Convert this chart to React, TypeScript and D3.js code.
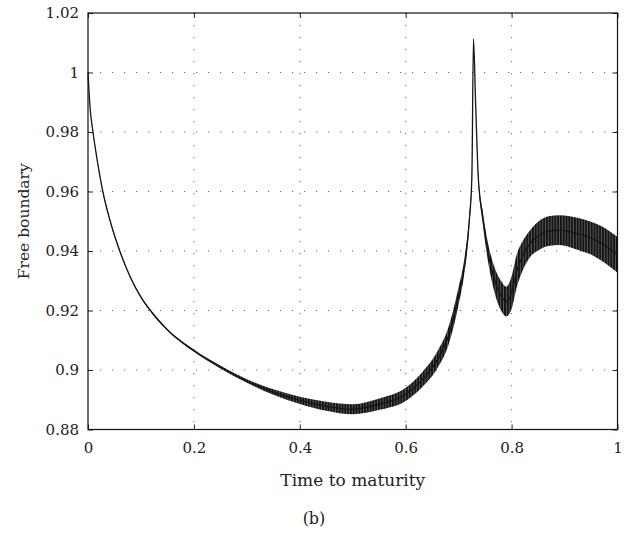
import React, { useEffect, useRef } from 'react';
import * as d3 from 'd3';

// time to maturity (x) sampled along the curve
const times = [0, 0.004, 0.0094, 0.017, 0.028, 0.042, 0.06, 0.08, 0.1, 0.12, 0.15, 0.2, 0.25, 0.3, 0.35, 0.4, 0.45, 0.5, 0.55, 0.6, 0.63, 0.66, 0.68, 0.7, 0.71, 0.72, 0.725, 0.728, 0.732, 0.737, 0.745, 0.755, 0.765, 0.78, 0.79, 0.8, 0.81, 0.82, 0.835, 0.85, 0.87, 0.89, 0.91, 0.93, 0.95, 0.97, 1.0];
// middle of the oscillating free boundary
const boundary = [1.0, 0.988, 0.98, 0.971, 0.96, 0.95, 0.94, 0.9312, 0.9245, 0.9195, 0.9135, 0.9065, 0.901, 0.8963, 0.8926, 0.8898, 0.8878, 0.8868, 0.8885, 0.8918, 0.8965, 0.9035, 0.911, 0.925, 0.934, 0.95, 0.965, 1.0112, 0.99, 0.965, 0.952, 0.94, 0.932, 0.925, 0.923, 0.926, 0.9335, 0.938, 0.9425, 0.945, 0.9467, 0.947, 0.9465, 0.9455, 0.9443, 0.9425, 0.9387];
// half height of the oscillation band
const spread = [0, 0.0002, 0.0003, 0.0003, 0.0003, 0.0003, 0.0003, 0.0003, 0.0003, 0.0003, 0.0003, 0.0004, 0.0005, 0.0006, 0.0009, 0.0012, 0.0015, 0.0017, 0.0019, 0.0022, 0.0025, 0.0028, 0.003, 0.003, 0.0025, 0.002, 0.0008, 0.0002, 0.0004, 0.0008, 0.002, 0.003, 0.004, 0.005, 0.005, 0.0055, 0.0055, 0.005, 0.0045, 0.0048, 0.005, 0.005, 0.0052, 0.0054, 0.0055, 0.0058, 0.006];

const xTicks = [0, 0.2, 0.4, 0.6, 0.8, 1];
const yTicks = [0.88, 0.9, 0.92, 0.94, 0.96, 0.98, 1, 1.02];
const xGrid = [0.2, 0.4, 0.6, 0.8];
const yGrid = [0.9, 0.92, 0.94, 0.96, 0.98, 1];

const FONT = '"DejaVu Serif", "Liberation Serif", serif';

const App = () => {
    const svgRef = useRef<SVGSVGElement>(null);

    useEffect(() => {
        const left = 88, right = 617.5, top = 13, bottom = 429.5;
        const svg = d3.select(svgRef.current);
        svg.selectAll('*').remove();

        const x = d3.scaleLinear().domain([0, 1]).range([left, right]);
        const y = d3.scaleLinear().domain([0.88, 1.02]).range([bottom, top]);

        const data = times.map((t, i) => ({ t, v: boundary[i], s: spread[i] }));

        // stripes mimic the dense oscillation
        const pat = svg.append('defs').append('pattern')
            .attr('id', 'osc')
            .attr('patternUnits', 'userSpaceOnUse')
            .attr('width', 2.8)
            .attr('height', 20);
        pat.append('rect').attr('width', 2.8).attr('height', 20).attr('fill', '#5a5a5a');
        pat.append('rect').attr('width', 1.8).attr('height', 20).attr('fill', '#121212');

        // grid
        svg.append('g').selectAll('line').data(xGrid).enter().append('line')
            .attr('x1', d => x(d)).attr('x2', d => x(d))
            .attr('y1', top).attr('y2', bottom)
            .attr('stroke', '#666').attr('stroke-dasharray', '1.2,10.8');
        svg.append('g').selectAll('line').data(yGrid).enter().append('line')
            .attr('y1', d => y(d)).attr('y2', d => y(d))
            .attr('x1', left).attr('x2', right)
            .attr('stroke', '#666').attr('stroke-dasharray', '1.2,10.8');

        // band + centre line
        const area = d3.area<any>()
            .x(d => x(d.t))
            .y0(d => y(d.v - d.s))
            .y1(d => y(d.v + d.s))
            .curve(d3.curveMonotoneX);
        svg.append('path').datum(data).attr('d', area).attr('fill', 'url(#osc)');

        const line = d3.line<any>()
            .x(d => x(d.t))
            .y(d => y(d.v))
            .curve(d3.curveMonotoneX);
        svg.append('path').datum(data).attr('d', line)
            .attr('fill', 'none').attr('stroke', '#151515').attr('stroke-width', 1.3);

        // axes, ticks pointing inward
        const styleAxis = (g: any) => {
            g.select('.domain').remove();
            g.selectAll('.tick line').attr('stroke', '#222');
            g.selectAll('text').style('font-family', FONT).style('font-size', '15px').attr('fill', '#222');
        };
        svg.append('g').attr('transform', `translate(0,${bottom})`)
            .call(d3.axisBottom(x).tickValues(xTicks).tickSize(-5).tickPadding(13).tickFormat(d => String(d)))
            .call(styleAxis);
        svg.append('g').attr('transform', `translate(${left},0)`)
            .call(d3.axisLeft(y).tickValues(yTicks).tickSize(-5).tickPadding(9).tickFormat(d => String(d)))
            .call(styleAxis);
        svg.append('g').attr('transform', `translate(0,${top})`)
            .call(d3.axisTop(x).tickValues(xTicks).tickSize(-5).tickFormat(() => ''))
            .call(styleAxis);
        svg.append('g').attr('transform', `translate(${right},0)`)
            .call(d3.axisRight(y).tickValues(yTicks).tickSize(-5).tickFormat(() => ''))
            .call(styleAxis);

        svg.append('rect')
            .attr('x', left).attr('y', top)
            .attr('width', right - left).attr('height', bottom - top)
            .attr('fill', 'none').attr('stroke', '#111').attr('stroke-width', 1.2);

        // labels
        svg.append('text')
            .attr('x', (left + right) / 2).attr('y', 486)
            .attr('text-anchor', 'middle')
            .style('font-family', FONT).style('font-size', '17px').attr('fill', '#222')
            .text('Time to maturity');
        svg.append('text')
            .attr('transform', `translate(28.5,${(top + bottom) / 2}) rotate(-90)`)
            .attr('text-anchor', 'middle')
            .style('font-family', FONT).style('font-size', '15.5px').attr('fill', '#222')
            .text('Free boundary');
        svg.append('text')
            .attr('x', 314).attr('y', 524)
            .attr('text-anchor', 'middle')
            .style('font-family', FONT).style('font-size', '16px').attr('fill', '#222')
            .text('(b)');
    }, []);

    return (
        <svg ref={svgRef} width={627} height={533}
            style={{ position: 'absolute', left: 0, top: 0, background: '#fff' }} />
    );
};

export default App;
